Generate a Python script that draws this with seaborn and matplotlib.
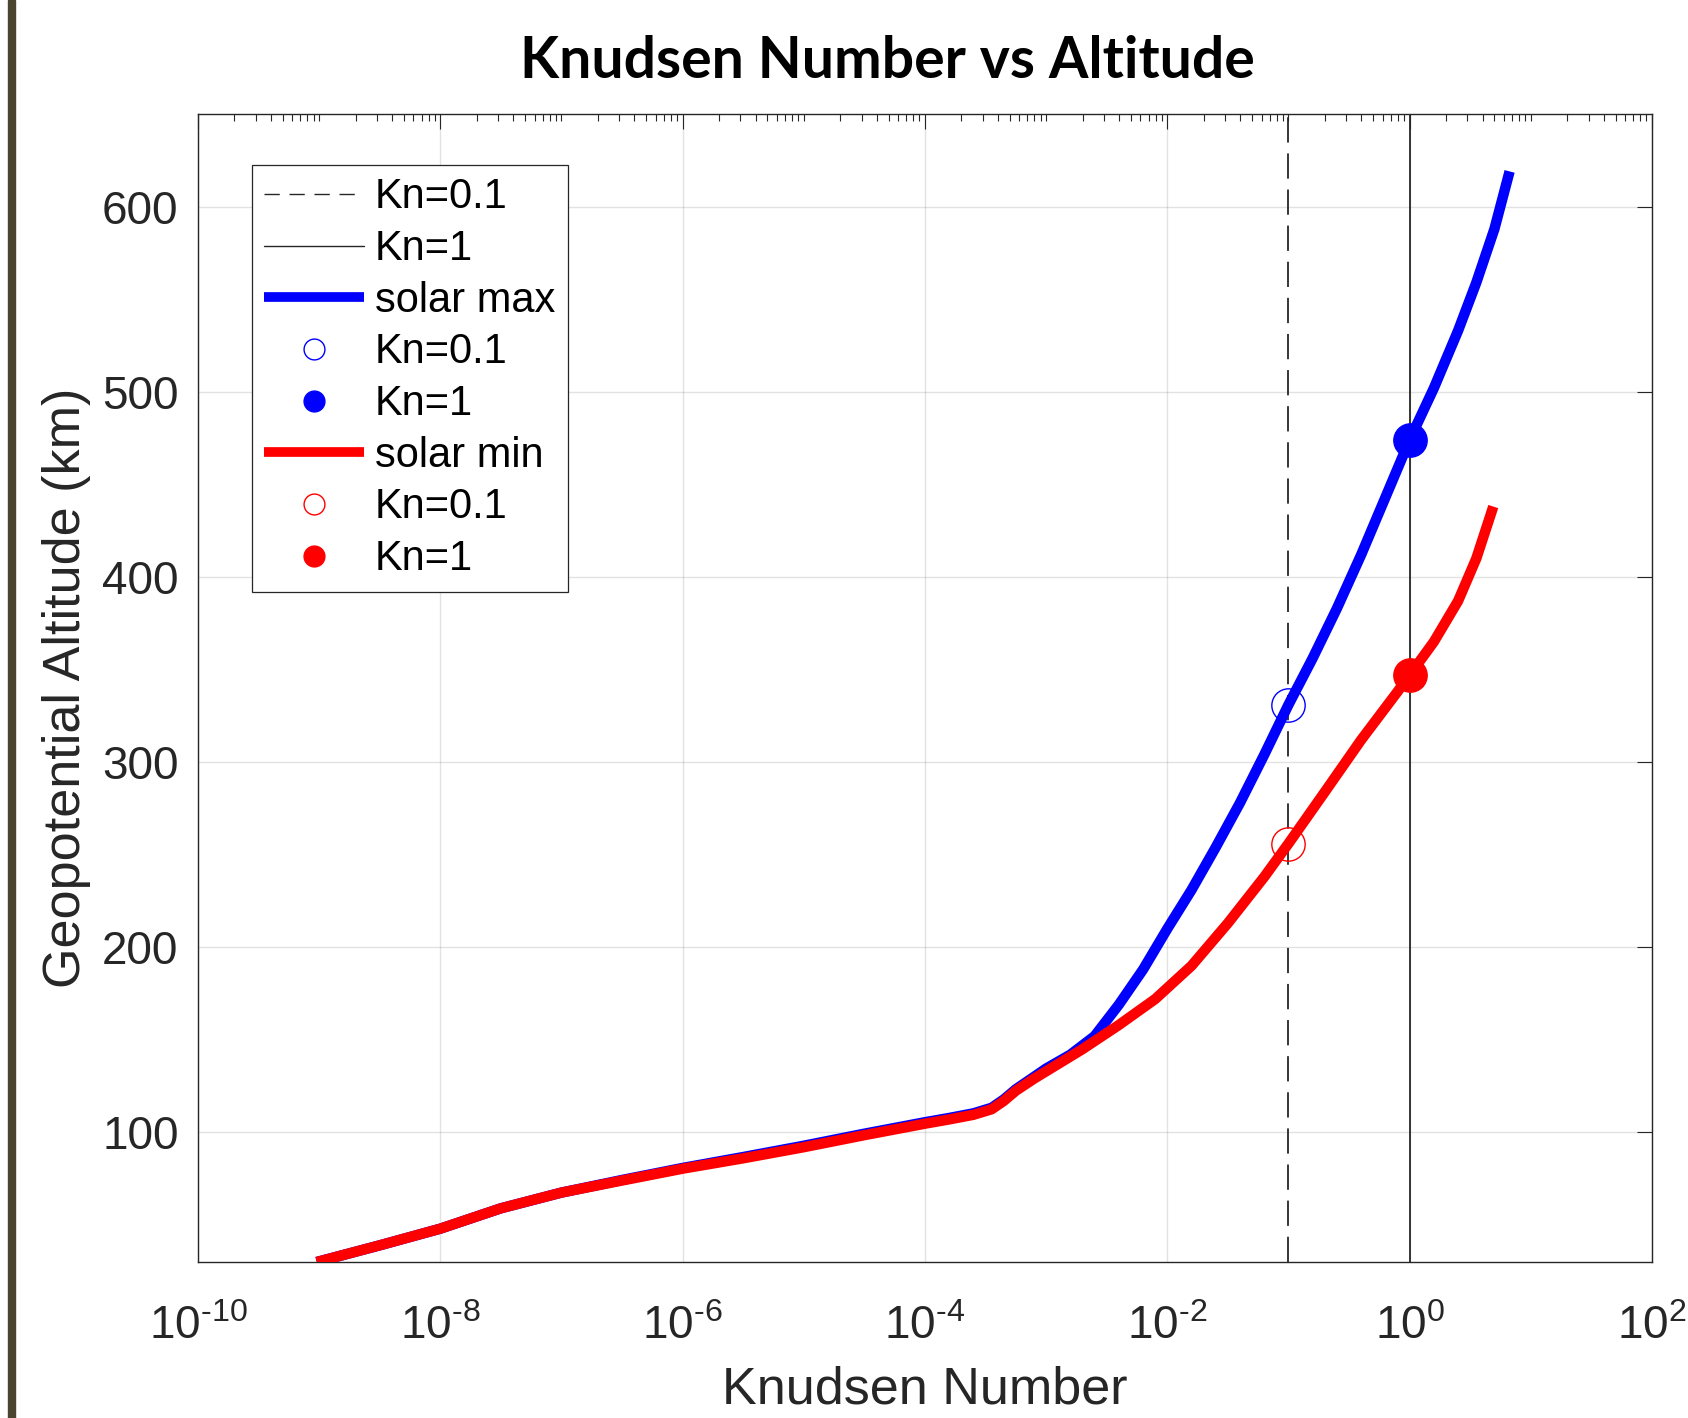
import numpy as np
import pandas as pd
import matplotlib
matplotlib.use("Agg")
import matplotlib.pyplot as plt
from matplotlib.lines import Line2D
from matplotlib.patches import Rectangle
from matplotlib.ticker import FixedLocator, LogLocator, FuncFormatter, NullFormatter
import seaborn as sns

# Knudsen number profiles (altitude in km)
solar_max_kn = [9.55e-10, 3.16e-9, 1.0e-8, 3.16e-8, 1.0e-7, 3.16e-7, 1.0e-6, 3.16e-6,
                1.0e-5, 3.16e-5, 1.0e-4, 1.585e-4, 2.51e-4, 3.55e-4, 4.47e-4, 5.62e-4,
                7.94e-4, 1.0e-3, 1.585e-3, 2.51e-3, 3.98e-3, 6.31e-3, 1.0e-2, 1.585e-2,
                2.51e-2, 3.98e-2, 6.31e-2, 0.1, 0.158, 0.251, 0.398, 0.631, 1.0, 1.585,
                2.51, 3.55, 5.01, 6.68]
solar_max_alt = [30, 39, 48, 59, 67.5, 74.3, 80.8, 86.7, 92.8, 99.3, 105.5, 107.8,
                 110.3, 113.3, 117.8, 123.3, 130, 134.5, 142, 152, 169, 188, 210, 231,
                 254, 278, 304, 331, 356, 383, 412, 443, 474, 502, 533, 559, 588, 619]

solar_min_kn = [9.55e-10, 3.16e-9, 1.0e-8, 3.16e-8, 1.0e-7, 3.16e-7, 1.0e-6, 3.16e-6,
                1.0e-5, 3.16e-5, 1.0e-4, 1.585e-4, 2.51e-4, 3.55e-4, 4.47e-4, 5.62e-4,
                7.94e-4, 1.0e-3, 2.0e-3, 3.98e-3, 7.94e-3, 1.585e-2, 3.16e-2, 6.31e-2,
                0.1, 0.2, 0.398, 0.794, 1.0, 1.585, 2.51, 3.55, 4.9]
solar_min_alt = [30, 39, 48, 59, 67.5, 74, 80.4, 86, 92, 98.5, 104.7, 107, 109.5,
                 112.5, 117, 122.5, 129, 133, 145, 158, 172, 190, 213, 238, 256, 284,
                 312, 338, 347, 365, 387, 410, 438]

# Altitudes where each profile reaches Kn = 0.1 and Kn = 1
kn_marks = [0.1, 1.0]
solar_max_mark_alt = [331, 474]
solar_min_mark_alt = [256, 347]

x_major = [1e-10, 1e-8, 1e-6, 1e-4, 1e-2, 1e0, 1e2]
y_major = [100, 200, 300, 400, 500, 600]

BLUE = "#0000ff"
RED = "#ff0000"
INK = "#262626"

sns.set_theme(style="white")
plt.rcParams.update({
    "font.family": ["Liberation Sans", "DejaVu Sans"],
    "mathtext.fontset": "custom",
    "mathtext.rm": "Liberation Sans",
    "mathtext.it": "Liberation Sans:italic",
    "mathtext.bf": "Liberation Sans:bold",
    "mathtext.default": "regular",
    "text.color": INK,
    "axes.labelcolor": INK,
    "xtick.color": INK,
    "ytick.color": INK,
    "axes.edgecolor": INK,
})

fig = plt.figure(figsize=(16.88, 14.18), dpi=100)
ax = fig.add_axes([198 / 1688, 1 - 1262 / 1418, (1652 - 198) / 1688, (1262 - 114) / 1418])
ax.set_xscale("log")

# reference lines
ax.axvline(kn_marks[0], color=INK, lw=1.3, ls=(0, (14, 6)), zorder=1.5)
ax.axvline(kn_marks[1], color=INK, lw=1.3, zorder=1.5)

profiles = pd.concat([
    pd.DataFrame({"Kn": solar_max_kn, "alt": solar_max_alt, "case": "solar max"}),
    pd.DataFrame({"Kn": solar_min_kn, "alt": solar_min_alt, "case": "solar min"}),
], ignore_index=True)

sns.lineplot(data=profiles, x="Kn", y="alt", hue="case",
             palette={"solar max": BLUE, "solar min": RED},
             linewidth=7.5, sort=False, estimator=None, legend=False,
             solid_capstyle="butt", solid_joinstyle="round", ax=ax, zorder=3)

# transition markers
ax.plot(kn_marks[0], solar_max_mark_alt[0], "o", mfc="none", mec=BLUE, ms=24, mew=1.0, zorder=4)
ax.plot(kn_marks[1], solar_max_mark_alt[1], "o", color=BLUE, ms=24, zorder=4)
ax.plot(kn_marks[0], solar_min_mark_alt[0], "o", mfc="none", mec=RED, ms=24, mew=1.0, zorder=4)
ax.plot(kn_marks[1], solar_min_mark_alt[1], "o", color=RED, ms=24, zorder=4)

ax.set_xlim(1e-10, 1e2)
ax.set_ylim(30, 650)


def decade_label(v, pos):
    e = int(round(np.log10(v)))
    if e < 0:
        return r"$10^{\text{-}%d}$" % (-e)
    return r"$10^{%d}$" % e


ax.xaxis.set_major_locator(FixedLocator(x_major))
ax.xaxis.set_minor_locator(LogLocator(base=10, subs=np.arange(1, 10), numticks=200))
ax.xaxis.set_minor_formatter(NullFormatter())
ax.xaxis.set_major_formatter(FuncFormatter(decade_label))
ax.yaxis.set_major_locator(FixedLocator(y_major))

ax.tick_params(which="both", direction="in", top=True, right=True, color=INK, width=0.8)
ax.tick_params(which="major", length=11)
ax.tick_params(which="minor", length=5)
ax.tick_params(axis="x", which="major", labelsize=33, pad=31)
ax.tick_params(axis="y", which="major", labelsize=33, pad=14)

ax.grid(True, which="major", color=INK, alpha=0.13, lw=1.0)
ax.grid(False, which="minor")
for s in ax.spines.values():
    s.set_visible(True)
    s.set_color(INK)
    s.set_linewidth(1.0)

ax.set_xlabel("Knudsen Number", fontsize=37.5, labelpad=12)
ax.set_ylabel("Geopotential Altitude (km)", fontsize=37.5, labelpad=8)

handles = [
    Line2D([], [], color=INK, lw=1.0, ls=(0, (11, 7))),
    Line2D([], [], color=INK, lw=1.0),
    Line2D([], [], color=BLUE, lw=7, solid_capstyle="butt"),
    Line2D([], [], ls="none", marker="o", mfc="none", mec=BLUE, ms=15, mew=1.0),
    Line2D([], [], ls="none", marker="o", color=BLUE, ms=15),
    Line2D([], [], color=RED, lw=7, solid_capstyle="butt"),
    Line2D([], [], ls="none", marker="o", mfc="none", mec=RED, ms=15, mew=1.0),
    Line2D([], [], ls="none", marker="o", color=RED, ms=15),
]
labels = ["Kn=0.1", "Kn=1", "solar max", "Kn=0.1", "Kn=1", "solar min", "Kn=0.1", "Kn=1"]
leg = ax.legend(handles, labels, loc="upper left", bbox_to_anchor=(0.0371, 0.9556),
                borderaxespad=0, fontsize=30, frameon=True, fancybox=False,
                edgecolor=INK, framealpha=1, labelspacing=0.28, handlelength=2.4,
                handletextpad=0.25, borderpad=0.3)
leg.get_frame().set_linewidth(0.9)
for t in leg.get_texts():
    t.set_color("black")

fig.text(887 / 1688, 1 - 61 / 1418, "Knudsen Number vs Altitude", ha="center", va="center",
         fontsize=41, fontweight="bold", color="black", family=["Lato", "DejaVu Sans"])

fig.add_artist(Rectangle((8 / 1688, 0), 7 / 1688, 1, transform=fig.transFigure,
                         color="#4a4430", zorder=10))

fig.savefig("out.png", dpi=100)
